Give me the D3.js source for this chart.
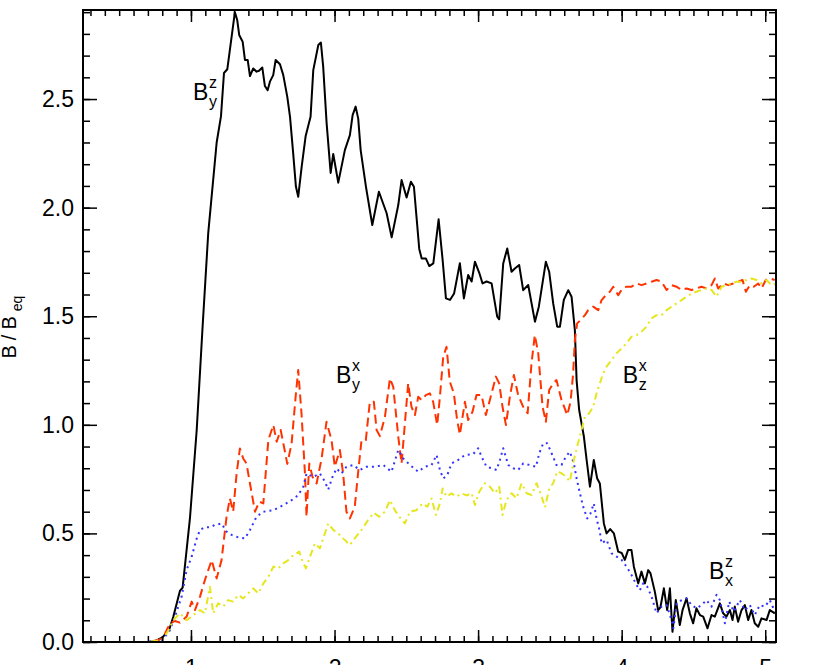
<!DOCTYPE html>
<html>
<head>
<meta charset="utf-8">
<script src="https://cdn.jsdelivr.net/npm/d3@7"></script>
<style>
  body { margin: 0; background: #fff; }
  svg { display: block; font-family: "Liberation Sans", Arial, sans-serif; }
</style>
</head>
<body>
<svg id="chart" width="830" height="665"></svg>
<script>
// B_y^z (black, solid)
var byzX = [0.25,0.5,0.7,0.75,0.805,0.85,0.877,0.923,0.942,0.993,1.04,1.08,1.12,1.179,1.209,1.23,1.253,1.306,1.322,1.336,1.36,1.376,1.395,1.411,1.434,1.457,1.474,1.497,1.515,1.534,1.55,1.573,1.59,1.62,1.643,1.671,1.69,1.712,1.731,1.747,1.771,1.799,1.833,1.852,1.887,1.905,1.921,1.945,1.973,1.991,2.026,2.072,2.107,2.126,2.147,2.165,2.182,2.219,2.263,2.309,2.363,2.398,2.444,2.467,2.502,2.532,2.553,2.59,2.607,2.636,2.66,2.688,2.725,2.753,2.776,2.804,2.833,2.873,2.901,2.931,2.955,2.978,3.008,3.031,3.059,3.094,3.133,3.147,3.175,3.203,3.233,3.256,3.286,3.314,3.349,3.396,3.423,3.441,3.472,3.495,3.523,3.551,3.57,3.597,3.628,3.651,3.674,3.686,3.704,3.737,3.756,3.779,3.806,3.829,3.848,3.876,3.895,3.92,3.946,3.976,4.0,4.022,4.045,4.068,4.085,4.115,4.138,4.162,4.185,4.201,4.231,4.254,4.27,4.294,4.317,4.336,4.354,4.377,4.405,4.424,4.452,4.475,4.498,4.521,4.545,4.568,4.598,4.626,4.649,4.684,4.707,4.73,4.754,4.772,4.788,4.811,4.835,4.858,4.881,4.904,4.927,4.951,4.974,5.009,5.032,5.067];
var byzY = [0,0,0,0.003,0.024,0.06,0.116,0.235,0.25,0.57,0.976,1.44,1.88,2.30,2.42,2.62,2.637,2.90,2.864,2.795,2.764,2.68,2.68,2.606,2.641,2.626,2.63,2.645,2.56,2.541,2.58,2.61,2.68,2.66,2.61,2.51,2.418,2.25,2.097,2.05,2.188,2.33,2.418,2.633,2.749,2.76,2.649,2.388,2.16,2.247,2.115,2.265,2.334,2.426,2.465,2.41,2.265,2.096,1.92,2.073,1.974,1.863,2.012,2.127,2.047,2.119,2.096,1.81,1.766,1.766,1.731,1.743,1.946,1.759,1.582,1.575,1.605,1.744,1.582,1.69,1.66,1.751,1.70,1.651,1.66,1.651,1.498,1.486,1.743,1.812,1.705,1.72,1.736,1.62,1.644,1.475,1.544,1.62,1.751,1.705,1.559,1.452,1.452,1.575,1.62,1.59,1.436,1.206,1.068,0.945,0.838,0.715,0.838,0.754,0.73,0.546,0.50,0.52,0.50,0.416,0.41,0.378,0.424,0.424,0.347,0.27,0.324,0.27,0.331,0.316,0.232,0.147,0.16,0.247,0.147,0.247,0.047,0.193,0.078,0.147,0.201,0.132,0.086,0.155,0.124,0.117,0.063,0.124,0.117,0.178,0.132,0.117,0.147,0.101,0.163,0.093,0.147,0.17,0.101,0.147,0.086,0.07,0.109,0.101,0.147,0.132];

// B_y^x (red, dashed)
var byxX = [0.25,0.7,0.78,0.82,0.854,0.889,0.923,0.97,1.005,1.028,1.063,1.097,1.144,1.179,1.213,1.248,1.271,1.294,1.318,1.341,1.364,1.387,1.411,1.446,1.476,1.504,1.539,1.574,1.597,1.625,1.648,1.671,1.701,1.729,1.747,1.77,1.794,1.805,1.824,1.847,1.875,1.91,1.944,1.979,2.002,2.037,2.06,2.083,2.107,2.141,2.165,2.188,2.218,2.246,2.274,2.293,2.316,2.351,2.386,2.409,2.444,2.467,2.49,2.513,2.536,2.56,2.583,2.606,2.636,2.664,2.687,2.715,2.734,2.757,2.78,2.803,2.831,2.854,2.873,2.908,2.931,2.961,2.989,3.024,3.054,3.082,3.124,3.147,3.17,3.194,3.221,3.249,3.279,3.314,3.345,3.372,3.395,3.419,3.449,3.472,3.495,3.523,3.546,3.581,3.621,3.644,3.662,3.674,3.69,3.713,3.744,3.767,3.802,3.837,3.86,3.89,3.918,3.941,3.976,4.006,4.034,4.069,4.104,4.139,4.173,4.208,4.243,4.278,4.313,4.348,4.382,4.417,4.452,4.487,4.521,4.556,4.591,4.626,4.649,4.672,4.707,4.742,4.777,4.812,4.842,4.865,4.893,4.92,4.951,4.974,5.004,5.032,5.066];
var byxY = [0,0,0.01,0.04,0.086,0.097,0.089,0.117,0.186,0.147,0.209,0.285,0.377,0.293,0.377,0.577,0.661,0.6,0.776,0.891,0.845,0.822,0.73,0.6,0.646,0.638,0.93,0.999,0.922,0.976,0.899,0.82,0.914,1.129,1.252,1.052,0.776,0.577,0.822,0.76,0.73,0.845,1.014,0.93,0.807,0.884,0.776,0.6,0.569,0.623,0.784,0.93,0.93,1.106,1.106,0.976,0.948,1.037,1.214,1.175,0.945,0.822,1.006,1.191,1.083,1.045,1.129,1.114,1.137,1.145,1.106,0.999,1.129,1.313,1.359,1.199,1.145,1.022,0.955,1.106,1.022,1.06,1.137,1.137,1.045,1.114,1.222,1.191,1.083,0.999,1.129,1.229,1.137,1.083,1.053,1.283,1.413,1.329,1.083,1.014,1.16,1.191,1.206,1.114,1.045,1.106,1.236,1.39,1.467,1.482,1.505,1.528,1.544,1.528,1.574,1.597,1.613,1.636,1.597,1.628,1.636,1.636,1.651,1.643,1.651,1.659,1.667,1.659,1.621,1.643,1.636,1.621,1.628,1.621,1.628,1.636,1.628,1.643,1.674,1.628,1.651,1.643,1.651,1.659,1.667,1.613,1.643,1.636,1.651,1.628,1.667,1.674,1.667];

// B_x^z (blue, dotted)
var bxzX = [0.25,0.7,0.8,0.85,0.889,0.935,0.97,1.005,1.04,1.063,1.097,1.132,1.167,1.213,1.248,1.283,1.329,1.376,1.411,1.457,1.504,1.574,1.643,1.701,1.747,1.782,1.805,1.852,1.898,1.933,1.956,1.986,2.014,2.049,2.083,2.13,2.176,2.223,2.281,2.339,2.397,2.444,2.479,2.525,2.583,2.629,2.676,2.711,2.734,2.757,2.785,2.815,2.861,2.908,2.966,3.001,3.024,3.059,3.094,3.129,3.152,3.175,3.21,3.245,3.279,3.314,3.361,3.403,3.426,3.454,3.482,3.512,3.546,3.581,3.611,3.639,3.667,3.686,3.709,3.732,3.76,3.783,3.806,3.825,3.848,3.86,3.895,3.93,3.965,4.0,4.034,4.069,4.104,4.127,4.15,4.178,4.208,4.243,4.278,4.313,4.348,4.36,4.383,4.418,4.452,4.487,4.522,4.556,4.591,4.626,4.661,4.684,4.719,4.749,4.781,4.823,4.858,4.893,4.927,4.962,4.997,5.032,5.067];
var bxzY = [0,0,0.01,0.05,0.117,0.209,0.332,0.393,0.477,0.516,0.528,0.528,0.539,0.546,0.508,0.493,0.482,0.477,0.516,0.577,0.6,0.607,0.63,0.653,0.676,0.715,0.776,0.76,0.776,0.738,0.702,0.76,0.799,0.776,0.807,0.815,0.792,0.807,0.807,0.815,0.784,0.884,0.845,0.815,0.784,0.807,0.815,0.861,0.792,0.753,0.768,0.822,0.838,0.861,0.865,0.892,0.853,0.807,0.8,0.792,0.838,0.892,0.815,0.8,0.792,0.822,0.815,0.807,0.869,0.915,0.915,0.869,0.815,0.815,0.853,0.876,0.822,0.754,0.685,0.623,0.569,0.592,0.638,0.569,0.508,0.454,0.47,0.408,0.393,0.378,0.347,0.308,0.262,0.239,0.27,0.255,0.209,0.132,0.163,0.17,0.101,0.063,0.178,0.193,0.201,0.17,0.155,0.17,0.193,0.163,0.217,0.193,0.086,0.186,0.14,0.193,0.147,0.17,0.124,0.17,0.163,0.193,0.14];

// B_z^x (yellow, dash-dot)
var bzxX = [0.25,0.7,0.8,0.84,0.877,0.923,0.97,1.016,1.063,1.097,1.132,1.155,1.19,1.225,1.259,1.294,1.329,1.364,1.399,1.434,1.469,1.504,1.539,1.574,1.608,1.643,1.678,1.713,1.754,1.778,1.801,1.829,1.864,1.898,1.933,1.956,1.991,2.026,2.06,2.107,2.141,2.188,2.234,2.274,2.311,2.351,2.386,2.42,2.451,2.49,2.525,2.571,2.613,2.646,2.676,2.706,2.734,2.753,2.78,2.815,2.85,2.885,2.92,2.955,2.978,3.008,3.047,3.082,3.117,3.147,3.17,3.198,3.233,3.268,3.303,3.338,3.372,3.407,3.435,3.466,3.496,3.523,3.551,3.581,3.611,3.639,3.667,3.69,3.72,3.744,3.774,3.802,3.825,3.848,3.871,3.895,3.929,3.964,3.999,4.034,4.069,4.104,4.139,4.173,4.208,4.243,4.278,4.313,4.348,4.382,4.417,4.452,4.487,4.521,4.556,4.591,4.626,4.661,4.696,4.73,4.765,4.8,4.835,4.87,4.905,4.939,4.974,5.009,5.044,5.075];
var bzxY = [0,0,0.01,0.05,0.1,0.132,0.1,0.124,0.147,0.132,0.254,0.132,0.178,0.163,0.193,0.186,0.216,0.201,0.224,0.247,0.224,0.27,0.3,0.347,0.339,0.362,0.377,0.4,0.416,0.37,0.339,0.393,0.454,0.431,0.5,0.546,0.516,0.5,0.477,0.447,0.477,0.516,0.562,0.595,0.577,0.6,0.653,0.607,0.577,0.546,0.6,0.607,0.638,0.623,0.661,0.585,0.638,0.707,0.669,0.684,0.669,0.684,0.675,0.685,0.631,0.692,0.731,0.715,0.685,0.715,0.585,0.654,0.685,0.662,0.731,0.685,0.677,0.731,0.685,0.62,0.708,0.731,0.785,0.777,0.762,0.739,0.838,0.9,0.976,1.037,1.053,1.083,1.145,1.191,1.237,1.268,1.298,1.329,1.352,1.375,1.406,1.413,1.429,1.452,1.49,1.505,1.505,1.528,1.544,1.559,1.574,1.59,1.605,1.613,1.621,1.628,1.621,1.59,1.636,1.643,1.651,1.659,1.659,1.667,1.674,1.667,1.651,1.667,1.643,1.65];

// axis ticks
var xMajor = [1, 2, 3, 4, 5];
var yMajor = [0, 0.5, 1.0, 1.5, 2.0, 2.5];
var xMinor = d3.range(3, 51).map(function(d) { return d / 10; });
var yMinor = d3.range(0, 30).map(function(d) { return d / 10; });

var margin = {top: 10, right: 54, bottom: 23, left: 83},
    W = 830, H = 665,
    width = W - margin.left - margin.right,
    height = H - margin.top - margin.bottom;

var svg = d3.select("#chart");
var g = svg.append("g")
  .attr("transform", "translate(" + margin.left + "," + margin.top + ")");

var x = d3.scaleLinear().domain([0.248, 5.075]).range([0, width]);
var y = d3.scaleLinear().domain([0, 2.91]).range([height, 0]);

// series
var series = [
  {xs: byzX, ys: byzY, color: "#000000", dash: null},
  {xs: byxX, ys: byxY, color: "#ff3300", dash: "9,5"},
  {xs: bxzX, ys: bxzY, color: "#3333ff", dash: "2,4"},
  {xs: bzxX, ys: bzxY, color: "#e6e61e", dash: "7,4,2,4"}
];

var line = d3.line()
  .x(function(d) { return x(d[0]); })
  .y(function(d) { return y(d[1]); });

g.append("clipPath").attr("id", "clip")
  .append("rect").attr("width", width).attr("height", height);

g.append("g").attr("clip-path", "url(#clip)")
  .selectAll("path")
  .data(series)
  .enter().append("path")
  .attr("d", function(s) { return line(d3.zip(s.xs, s.ys)); })
  .attr("fill", "none")
  .attr("stroke", function(s) { return s.color; })
  .attr("stroke-width", 2)
  .attr("stroke-linejoin", "round")
  .attr("stroke-dasharray", function(s) { return s.dash; });

// axes, ticks pointing inward on all four sides
function styleAxis(sel) {
  sel.select(".domain").remove();
  sel.selectAll(".tick line").attr("stroke", "#000").attr("stroke-width", 1.5);
  sel.selectAll("text").attr("fill", "#000").attr("font-size", 23)
    .attr("font-family", "'Liberation Sans', Arial, sans-serif");
}

g.append("g").attr("transform", "translate(0," + height + ")")
  .call(d3.axisBottom(x).tickValues(xMajor).tickSize(-12).tickPadding(18)
    .tickFormat(d3.format("d")))
  .call(styleAxis);
g.append("g").attr("transform", "translate(0," + height + ")")
  .call(d3.axisBottom(x).tickValues(xMinor).tickSize(-6).tickFormat(""))
  .call(styleAxis);
g.append("g")
  .call(d3.axisTop(x).tickValues(xMajor).tickSize(-12).tickFormat(""))
  .call(styleAxis);
g.append("g")
  .call(d3.axisTop(x).tickValues(xMinor).tickSize(-6).tickFormat(""))
  .call(styleAxis);

g.append("g")
  .call(d3.axisLeft(y).tickValues(yMajor).tickSize(-14).tickPadding(9)
    .tickFormat(d3.format(".1f")))
  .call(styleAxis);
g.append("g")
  .call(d3.axisLeft(y).tickValues(yMinor).tickSize(-7).tickFormat(""))
  .call(styleAxis);
g.append("g").attr("transform", "translate(" + width + ",0)")
  .call(d3.axisRight(y).tickValues(yMajor).tickSize(-14).tickFormat(""))
  .call(styleAxis);
g.append("g").attr("transform", "translate(" + width + ",0)")
  .call(d3.axisRight(y).tickValues(yMinor).tickSize(-7).tickFormat(""))
  .call(styleAxis);

// frame
g.append("rect")
  .attr("width", width).attr("height", height)
  .attr("fill", "none").attr("stroke", "#000").attr("stroke-width", 2);

// y axis title
var yt = svg.append("text")
  .attr("transform", "translate(16," + (margin.top + y(1.45)) + ") rotate(-90)")
  .attr("text-anchor", "middle")
  .attr("font-size", 20)
  .attr("letter-spacing", 5)
  .attr("fill", "#000");
yt.append("tspan").text("B/B");
yt.append("tspan").attr("font-size", 14).attr("dy", 6).attr("letter-spacing", 0).text("eq");

// curve labels
var labels = [
  {x: 1.014, y: 2.495, sup: "z", sub: "y"},
  {x: 2.01, y: 1.192, sup: "x", sub: "y"},
  {x: 4.007, y: 1.192, sup: "x", sub: "z"},
  {x: 4.608, y: 0.289, sup: "z", sub: "x"}
];

var lab = g.selectAll(".curve-label")
  .data(labels)
  .enter().append("g")
  .attr("class", "curve-label")
  .attr("transform", function(d) { return "translate(" + x(d.x) + "," + y(d.y) + ")"; });

lab.append("text").attr("font-size", 23).attr("fill", "#000").text("B");
lab.append("text").attr("x", 16).attr("y", -12).attr("font-size", 16).attr("fill", "#000")
  .text(function(d) { return d.sup; });
lab.append("text").attr("x", 16).attr("y", 7).attr("font-size", 16).attr("fill", "#000")
  .text(function(d) { return d.sub; });
</script>
</body>
</html>
